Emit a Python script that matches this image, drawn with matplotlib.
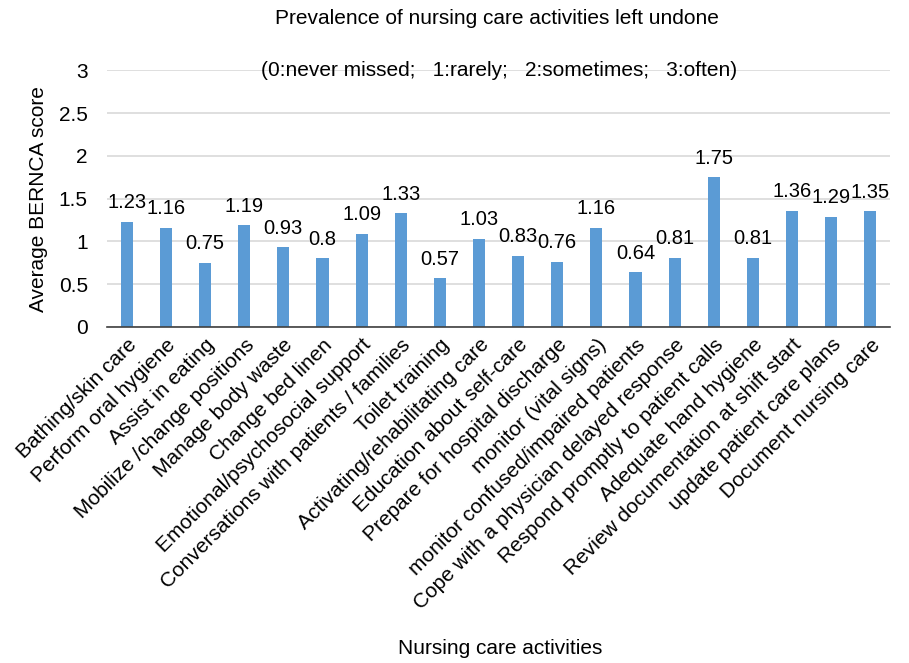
import numpy as np
import matplotlib.pyplot as plt

plt.rcParams['font.family'] = ['Liberation Sans', 'DejaVu Sans']

activities = [
    'Bathing/skin care', 'Perform oral hygiene', 'Assist in eating',
    'Mobilize /change positions', 'Manage body waste', 'Change bed linen',
    'Emotional/psychosocial support', 'Conversations with patients / families',
    'Toilet training', 'Activating/rehabilitating care', 'Education about self-care',
    'Prepare for hospital discharge', 'monitor (vital signs)',
    'monitor confused/impaired patients', 'Cope with a physician delayed response',
    'Respond promptly to patient calls', 'Adequate hand hygiene',
    'Review documentation at shift start', 'update patient care plans',
    'Document nursing care',
]
scores = [1.23, 1.16, 0.75, 1.19, 0.93, 0.8, 1.09, 1.33, 0.57, 1.03,
          0.83, 0.76, 1.16, 0.64, 0.81, 1.75, 0.81, 1.36, 1.29, 1.35]

fig = plt.figure(figsize=(9.09, 6.63), dpi=100)
ax = fig.add_axes([0.118, 0.507, 0.861, 0.387])

x = np.arange(len(activities))
ax.bar(x, scores, width=0.31, color='#5B9BD5', zorder=3)

# value labels above each bar
for xi, v in zip(x, scores):
    ax.text(xi, v + 0.11, f'{v:g}', ha='center', va='bottom', fontsize=14.5, color='black')

ax.set_xlim(-0.5, len(activities) - 0.5)
ax.set_ylim(0, 3)
ax.set_yticks([0, 0.5, 1, 1.5, 2, 2.5, 3])
ax.set_yticklabels(['0', '0.5', '1', '1.5', '2', '2.5', '3'])
ax.grid(axis='y', color='#D9D9D9', linewidth=1.2, zorder=0)
for s in ['top', 'right', 'left']:
    ax.spines[s].set_visible(False)
ax.spines['bottom'].set_color('#404040')
ax.spines['bottom'].set_linewidth(1.2)
ax.spines['bottom'].set_zorder(4)
ax.tick_params(axis='y', length=0, labelsize=15, pad=14)

ax.set_xticks(x)
ax.set_xticklabels(activities, rotation=45, ha='right', rotation_mode='anchor', fontsize=15)
ax.tick_params(axis='x', length=0, pad=6)

ax.set_ylabel('Average BERNCA score', fontsize=15, labelpad=8)
fig.text(0.55, 0.022, 'Nursing care activities', ha='center', va='center', fontsize=15)
fig.text(0.547, 0.972, 'Prevalence of nursing care activities left undone',
         ha='center', va='center', fontsize=15)
ax.text((len(activities) - 1) / 2, 3.0, '(0:never missed;   1:rarely;   2:sometimes;   3:often)',
        ha='center', va='center', fontsize=15, zorder=5)

fig.savefig('out.png', dpi=100)
